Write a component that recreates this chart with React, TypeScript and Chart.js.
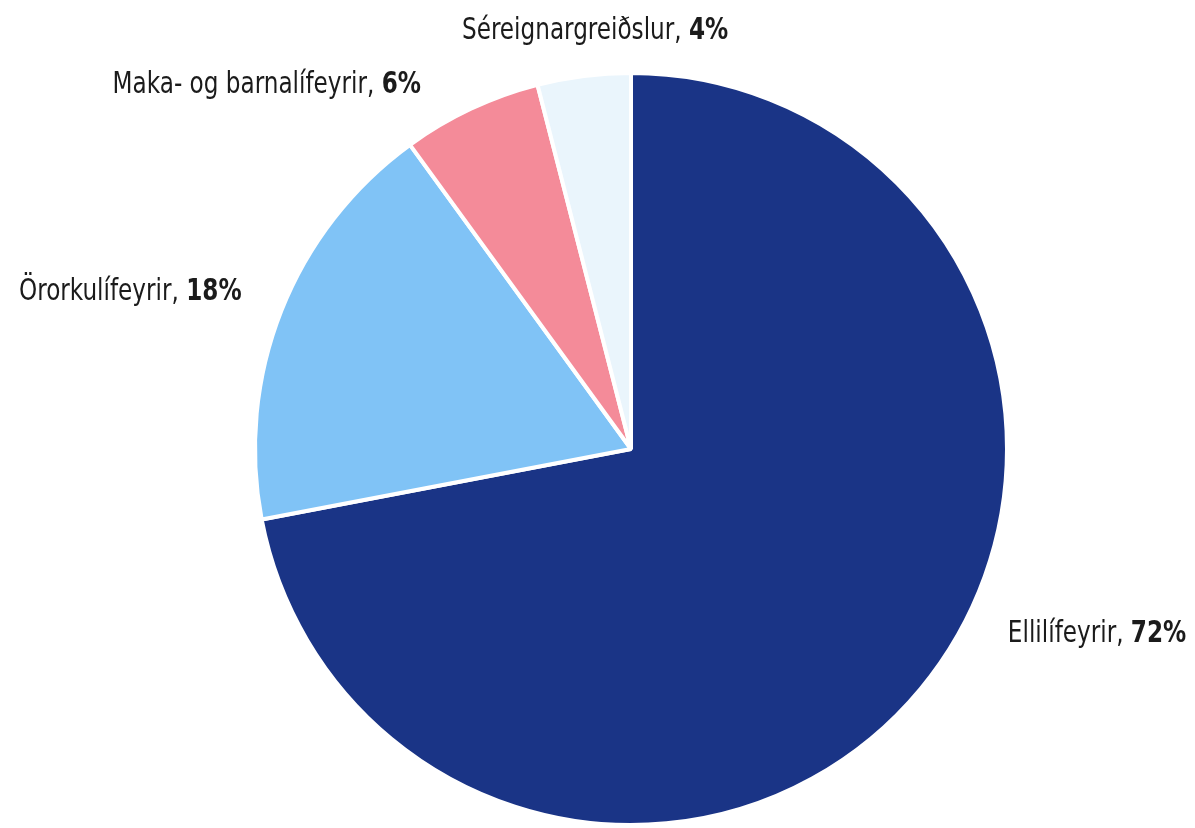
import React, { useEffect, useRef } from "react";
import { Chart, registerables } from "chart.js";

Chart.register(...registerables);

const categories = ["Ellilífeyrir", "Örorkulífeyrir", "Maka- og barnalífeyrir", "Séreignargreiðslur"];
const shares = [72, 18, 6, 4];
const percentLabels = ["72%", "18%", "6%", "4%"];
const sliceColors = ["#1a3486", "#80c3f6", "#f48b99", "#eaf5fc"];

const FONT = "'Liberation Sans Narrow', 'DejaVu Sans Condensed', 'Roboto', sans-serif";

const outsideLabels = {
  id: "outsideLabels",
  afterDatasetsDraw(chart: any, _args: any, opts: any) {
    const ctx = chart.ctx;
    const meta = chart.getDatasetMeta(0);
    const shifts: number[] = opts.angleShiftDeg || [];
    const size = opts.fontSize || 29;
    const sx = opts.scaleX || 1;
    meta.data.forEach((arc: any, i: number) => {
      const { x, y, startAngle, endAngle, outerRadius } = arc.getProps(
        ["x", "y", "startAngle", "endAngle", "outerRadius"],
        true
      );
      const mid = (startAngle + endAngle) / 2 + ((shifts[i] || 0) * Math.PI) / 180;
      const d = outerRadius * (opts.distance || 1.117);
      const ax = x + Math.cos(mid) * d;
      const ay = y + Math.sin(mid) * d;
      const normal = chart.data.labels[i] + ", ";
      const bold = percentLabels[i];
      ctx.save();
      ctx.fillStyle = "#1b1b1b";
      ctx.textBaseline = "middle";
      ctx.font = `400 ${size}px ${FONT}`;
      const w1 = ctx.measureText(normal).width * sx;
      ctx.font = `700 ${size}px ${FONT}`;
      const w2 = ctx.measureText(bold).width * sx;
      const total = w1 + w2;
      const c = Math.cos(mid);
      let left: number;
      if (Math.abs(c) < 0.2) left = ax - total / 2;
      else if (c > 0) left = ax;
      else left = ax - total;
      ctx.translate(left, ay);
      ctx.scale(sx, 1);
      ctx.textAlign = "left";
      ctx.font = `400 ${size}px ${FONT}`;
      ctx.fillText(normal, 0, 0);
      ctx.font = `700 ${size}px ${FONT}`;
      ctx.fillText(bold, w1 / sx, 0);
      ctx.restore();
    });
  },
};

export default function App() {
  const ref = useRef<HTMLCanvasElement | null>(null);
  useEffect(() => {
    if (!ref.current) return;
    const chart = new Chart(ref.current, {
      type: "pie",
      data: {
        labels: categories,
        datasets: [
          {
            data: shares,
            backgroundColor: sliceColors,
            borderColor: "#ffffff",
            borderWidth: 4,
          },
        ],
      },
      options: {
        animation: false,
        responsive: true,
        maintainAspectRatio: false,
        radius: 376,
        layout: { padding: { top: 73, bottom: 3, left: 255, right: 188 } },
        plugins: {
          legend: { display: false },
          tooltip: { enabled: false },
          outsideLabels: {
            angleShiftDeg: [-13.4, 0.4, -4.8, 2.3],
            distance: 1.117,
            fontSize: 31,
            scaleX: 0.83,
          },
        } as any,
      },
      plugins: [outsideLabels],
    });
    return () => chart.destroy();
  }, []);
  return (
    <div style={{ position: "fixed", left: 0, top: 0, width: 1195, height: 828, background: "#fff" }}>
      <canvas ref={ref} />
    </div>
  );
}
